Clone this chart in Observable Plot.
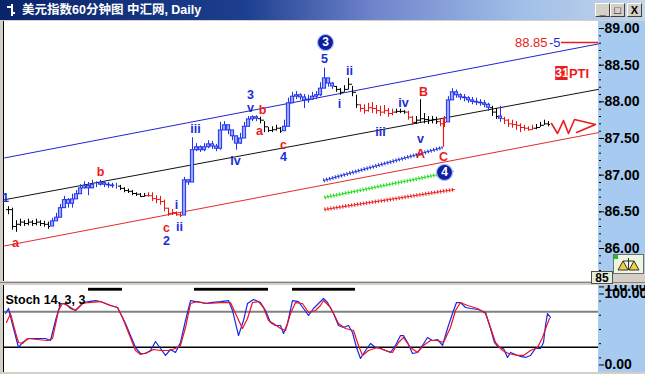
<!DOCTYPE html>
<html><head><meta charset="utf-8">
<script src="https://cdn.jsdelivr.net/npm/d3@7"></script>
<script src="https://cdn.jsdelivr.net/npm/@observablehq/plot@0.6"></script>
<style>
html,body{margin:0;padding:0}
body{width:645px;height:374px;overflow:hidden;background:#d4d0c8;position:relative;font-family:"Liberation Sans",Arial,"Noto Sans CJK SC",sans-serif}
.abs{position:absolute}
#title{left:0;top:0;width:645px;height:20px;background:linear-gradient(to right,#0a246a 0%,#1d3f8f 38%,#6f84cc 58%,#9fbde6 80%,#c4d6ea 100%)}
#title .t{position:absolute;left:22px;top:2px;color:#fff;font-weight:bold;font-size:12.5px;line-height:16px;white-space:nowrap;font-family:"Liberation Sans","Noto Sans CJK SC",sans-serif}
.btn{position:absolute;top:3px;width:13px;height:12px;background:#d4d0c8;border-top:1px solid #fff;border-left:1px solid #fff;border-right:1px solid #404040;border-bottom:1px solid #404040;font:bold 11px/12px "Liberation Sans",Arial;text-align:center;color:#000}
#mainbg{left:3px;top:21px;width:594px;height:260px;background:#fff;border-left:1px solid #000}
#mainaxis{left:598px;top:21px;width:47px;height:250px;background:#a6caf0}
#stochbg{left:3px;top:285px;width:594px;height:87px;background:#fff;border-left:1px solid #000}
#stochaxis{left:598px;top:285px;width:47px;height:87px;background:#a6caf0}
#sep{left:0;top:282px;width:645px;height:1px;background:#808080}
#box85{left:591px;top:271px;width:20px;height:11px;background:#e4eed8;border:1px solid #505050;font:bold 12px/12px "Liberation Sans",Arial;text-align:center;color:#000}
#icon{left:613px;top:254px;width:29px;height:18px;background:#eef6e0;border:1px solid #707070}
</style>
</head><body>
<div id="title" class="abs">
  <svg class="abs" style="left:4px;top:3px" width="12" height="14"><path d="M8 1 V13 M3 4 H8 M8 10 H11" stroke="#fff" stroke-width="2" fill="none"/></svg>
  <div class="t">美元指数60分钟图 中汇网, Daily</div>
  <div class="btn" style="left:595px">_</div>
  <div class="btn" style="left:610px">□</div>
  <div class="btn" style="left:627px">X</div>
</div>
<div id="mainbg" class="abs"></div>
<div id="mainaxis" class="abs"></div>
<div id="sep" class="abs"></div>
<div id="stochbg" class="abs"></div>
<div id="stochaxis" class="abs"></div>
<div id="box85" class="abs">85</div>
<div id="icon" class="abs"><svg width="29" height="18"><rect x="0" y="0" width="4" height="4" fill="#20c020"/><path d="M4 15 L9 6 L14 15 Z M15 15 L20 6 L25 15 Z M9 6 H20 M14.5 3 V15" stroke="#303030" fill="#f0d040" stroke-width="1"/></svg></div>
<script>
// ---------- price bars (hourly) ----------
const barClose = [86.53,86.30,86.33,86.36,86.34,86.36,86.34,86.36,86.34,86.33,86.30,
 86.37,86.42,86.55,86.66,86.61,86.67,86.74,86.82,86.85,86.82,86.87,86.87,86.89,86.87,86.86,86.85,86.85,
 86.82,86.79,86.78,86.75,86.74,86.71,86.72,
 86.72,86.68,86.67,86.64,86.55,86.48,86.49,86.46,86.45,
 86.93,86.90,87.34,87.38,87.34,87.38,87.42,87.39,87.36,87.61,87.68,87.61,87.53,87.43,87.50,87.66,87.76,87.79,87.77,
 87.75,87.66,87.61,87.62,87.64,87.60,
 87.66,87.98,88.07,88.09,88.06,88.02,88.03,88.07,88.09,88.18,88.32,88.25,88.21,
 88.17,88.13,88.17,88.24,88.13,87.96,
 87.91,87.88,87.92,87.91,87.88,87.86,87.88,87.84,87.86,
 87.87,87.87,87.86,
 87.79,87.72,
 87.75,87.77,87.76,87.75,87.76,87.73,
 87.70,87.72,
 88.02,88.13,88.09,88.06,88.05,88.02,88.00,87.99,87.98,87.96,87.92,
 87.86,87.80,
 87.77,
 87.75,87.70,87.69,87.68,87.65,87.64,87.62,87.64,
 87.65,87.68,87.70,87.69];
const barHigh = [86.57,86.55,86.38,86.40,86.38,86.40,86.38,86.40,86.38,86.37,86.36,
 86.41,86.48,86.60,86.71,86.68,86.74,86.79,86.87,86.91,86.90,86.93,86.91,86.93,86.91,86.90,86.89,86.89,
 86.86,86.83,86.81,86.79,86.76,86.75,86.75,
 86.76,86.76,86.72,86.71,86.66,86.55,86.53,86.50,86.49,
 86.97,86.94,87.51,87.43,87.40,87.43,87.47,87.46,87.42,87.72,87.73,87.68,87.61,87.51,87.57,87.72,87.80,87.81,87.81,
 87.79,87.73,87.65,87.66,87.68,87.65,
 87.75,88.05,88.13,88.14,88.11,88.10,88.09,88.13,88.14,88.26,88.46,88.32,88.26,
 88.21,88.18,88.22,88.32,88.21,88.09,
 87.96,87.96,87.98,87.99,87.95,87.94,87.95,87.91,87.90,
 87.90,87.90,87.88,
 87.87,87.80,
 87.80,88.03,87.84,87.80,87.80,87.79,
 87.77,87.80,
 88.07,88.18,88.16,88.11,88.10,88.07,88.06,88.05,88.03,88.02,87.98,
 87.94,87.91,
 87.94,
 87.79,87.76,87.75,87.73,87.70,87.68,87.66,87.68,
 87.69,87.72,87.75,87.73];
const barLow = [86.46,86.25,86.22,86.30,86.30,86.31,86.30,86.31,86.30,86.29,86.26,
 86.31,86.37,86.48,86.59,86.55,86.55,86.68,86.76,86.81,86.72,86.82,86.83,86.85,86.83,86.82,86.82,86.81,
 86.79,86.76,86.75,86.72,86.71,86.70,86.70,
 86.70,86.64,86.61,86.59,86.50,86.44,86.45,86.44,86.42,
 86.87,86.86,86.90,87.32,87.31,87.32,87.36,87.35,87.32,87.34,87.61,87.55,87.47,87.34,87.42,87.54,87.66,87.73,87.73,
 87.70,87.58,87.58,87.58,87.60,87.57,
 87.60,87.75,87.98,88.03,88.02,87.91,87.98,88.02,88.03,88.07,88.22,88.20,88.17,
 88.13,88.09,88.13,88.16,88.07,87.91,
 87.86,87.83,87.86,87.84,87.83,87.80,87.83,87.79,87.81,
 87.84,87.84,87.83,
 87.75,87.68,
 87.69,87.72,87.70,87.69,87.70,87.69,
 87.66,87.65,
 87.75,88.02,88.05,88.02,88.00,87.98,87.96,87.95,87.94,87.92,87.87,
 87.80,87.76,
 87.72,
 87.69,87.65,87.64,87.61,87.58,87.60,87.60,87.61,
 87.62,87.65,87.68,87.66];
// wave colouring of the bars: [number of bars, kind]
const barSegments = [[11,"flat"],[17,"up"],[7,"flat"],[9,"down"],[19,"up"],[6,"flat"],[13,"up"],[6,"flat"],[9,"down"],[3,"flat"],[2,"down"],[6,"flat"],[2,"down"],[11,"up"],[2,"flat"],[1,"up"],[8,"down"],[4,"flat"]];

// ---------- channel lines ----------
const channelNames = ["upper","middle","lower"];
const channelStartBar = [-1,-1,-1];
const channelStartPrice = [87.235,86.665,86.035];
const channelEndBar = [147.5,147.5,147.5];
const channelEndPrice = [88.79,88.17,87.58];

// ---------- projection lines ----------
const projNames = ["blue","green","red"];
const projStartBar = [78.75,79,79];
const projStartPrice = [86.927,86.696,86.532];
const projEndBar = [108.5,111.25,111.5];
const projEndPrice = [87.377,87.05,86.805];

// ---------- projected zig-zag ----------
const zigBar = [135.75,137.25,138.75,140,141.5,146.75,142];
const zigPrice = [87.705,87.568,87.745,87.568,87.759,87.691,87.582];

// ---------- wave labels ----------
const waveText = ["1","a","b","c","2","i","ii","iii","iv","3","v","b","a","c","4","5","ii","i","iii","iv","B","v","A","C"];
const waveBar = [-0.75,1.75,23,39.5,39.5,42,42.75,46.75,56.75,60.5,60.5,63.5,62.75,68.75,68.75,79,85.25,82.75,93,98.75,103.75,103,103,108.75];
const wavePrice = [86.695,86.069,87.037,86.273,86.096,86.587,86.30,87.636,87.20,88.10,87.91,87.882,87.609,87.418,87.241,88.591,88.427,87.964,87.582,87.991,88.141,87.50,87.295,87.241];
const waveType = ["impulse","corrective","corrective","corrective","impulse","impulse","impulse","impulse","impulse","impulse","impulse","corrective","corrective","corrective","impulse","impulse","impulse","impulse","impulse","impulse","corrective","impulse","corrective","corrective"];
const circleText = ["3","4"];
const circleBar = [79.25,109];
const circlePrice = [88.809,87.037];
// C marker line
const cLineBar = 108.75, cLineTop = 87.77, cLineBottom = 87.38;
// target
const targetLabel = "88.85", targetWave = "-5", targetLevel = 88.81, targetFrom = 138.25;
const ptiNumber = "31", ptiText = "PTI", ptiBar = 138.35, ptiPrice = 88.387, ptiBoxFrom = 136.8, ptiBoxTo = 139.9, ptiBoxLow = 88.291, ptiBoxHigh = 88.482;

// ---------- stochastic 14,3,3 ----------
const stochLabel = "Stoch 14, 3, 3";
const kBar = [-0.75,0,0.75,2.5,3.5,5,6.75,9.25,10.5,11.75,13,14.25,15.5,16.75,18,18.75,20,21.75,23,25.5,27.25,29.25,31.75,33,34.25,35.5,36.75,38,39.25,40.5,41.75,43,44.25,45.5,46.75,48,49.25,50.5,53,55,56,57.5,58.75,59.75,61.25,63,64.25,65.5,66.75,68,68.75,69.75,71,72.5,73.75,75,76.25,77.5,78.75,79.75,81.25,82.5,83.75,85,86,87,88,89.25,90.5,91.75,93,94.25,95.5,96.75,98,98.75,99.75,101,102.25,103.5,104.75,106,107.25,108.5,109.75,111,112,113,114.25,115.5,117.5,119.25,120.5,121.5,122.5,123.75,124.75,125.5,126.75,128,129.25,130.5,131.75,133,133.75,134.25,134.75,135.5];
const kValue = [72.5,79.6,62.7,24.6,31.7,37.3,37.3,37.3,34.5,62.7,86.6,86.6,79.6,76.8,83.8,88.0,89.4,90.8,89.4,83.8,81.0,58.5,24.6,16.2,16.2,20.4,33.1,23.2,13.4,21.8,17.6,31.7,62.7,90.8,89.4,88.0,86.6,88.0,89.4,90.8,76.8,41.5,62.7,86.6,92.3,88.0,76.8,59.9,55.6,55.6,44.4,58.5,90.8,89.4,79.6,69.7,79.6,86.6,93.7,88.0,72.5,55.6,52.8,55.6,45.8,24.6,9.2,20.4,30.3,24.6,23.2,20.4,17.6,27.5,41.5,41.5,31.7,16.2,17.6,27.5,38.7,34.5,35.9,27.5,51.4,72.5,88.0,88.0,81.0,79.6,78.2,73.9,51.4,31.7,24.6,23.2,10.6,17.6,14.8,12.0,10.6,13.4,23.2,23.2,31.7,55.6,72.5,66.9];
const dBar = [-0.5,0.5,1.75,2.5,3.5,4.75,9.75,11,12.5,13.5,14.75,16.75,18.5,20,23,25.5,27.25,28.5,31.75,33,34.75,36.25,38,40,41.75,43,44.25,45.5,47.25,49.75,53,55.5,56.75,58.5,59.75,61,62.5,63.75,65,66.25,68,69.25,70.5,71.75,73.5,75,76.75,78,78.75,80.5,82.5,84.25,86.25,87.5,88.5,90,92.25,94.25,96,97.5,98.75,100.5,102.25,103.75,105.5,107.25,108.75,110.5,111.75,113,114.75,117.25,119.25,120.5,121.75,123.5,125,127.25,128.75,130.5,132.25,133.5,134.75,135.25];
const dValue = [59.9,72.5,45.8,31.7,30.3,37.3,34.5,37.3,76.8,86.6,83.8,76.8,86.6,88.0,89.4,83.8,81.0,66.9,20.4,14.8,17.6,21.8,20.4,20.4,23.2,27.5,52.8,86.6,89.4,86.6,88.0,88.0,72.5,51.4,65.5,88.0,89.4,81.0,62.7,58.5,51.4,48.6,72.5,88.0,86.6,73.9,76.8,83.8,90.8,81.0,58.5,51.4,48.6,27.5,13.4,20.4,24.6,20.4,17.6,31.7,38.7,24.6,17.6,27.5,34.5,34.5,31.7,52.8,76.8,88.0,83.8,79.6,72.5,52.8,31.7,20.4,16.2,13.4,13.4,20.4,24.6,38.7,58.5,65.5];
const stochLevels = [75, 25];
const obStart = [20, 46.5, 71];
const obEnd = [28.5, 65, 86.75];

// ---------- build tables ----------
const kindOf = barSegments.flatMap(([n, k]) => Array(n).fill(k));
const bars = barClose.map((c, i) => ({i, open: i ? barClose[i - 1] : c, close: c, high: barHigh[i], low: barLow[i], kind: kindOf[i]}));
const upBars = bars.filter(d => d.kind === "up");
const otherBars = bars.filter(d => d.kind !== "up");
const channels = channelNames.flatMap((n, k) => [{n, i: channelStartBar[k], p: channelStartPrice[k]}, {n, i: channelEndBar[k], p: channelEndPrice[k]}]);
const projs = projNames.flatMap((n, k) => [{n, i: projStartBar[k], p: projStartPrice[k]}, {n, i: projEndBar[k], p: projEndPrice[k]}]);
const zig = zigBar.map((b, k) => ({i: b, p: zigPrice[k]}));
const waves = waveText.map((t, k) => ({t, i: waveBar[k], p: wavePrice[k], type: waveType[k]}));
const circles = circleText.map((t, k) => ({t, i: circleBar[k], p: circlePrice[k]}));
const kLine = kBar.map((b, k) => ({i: b, v: kValue[k]}));
const dLine = dBar.map((b, k) => ({i: b, v: dValue[k]}));
const obBars = obStart.map((s, k) => ({s, e: obEnd[k]}));

const BLUE = "#1c2ed6", RED = "#ea1c1c";
const barColor = {up: "#2233ee", down: "#f01010", flat: "#000000"};
const chanColor = {upper: "#2424d0", middle: "#111111", lower: "#e42a2a"};
const projColor = {blue: "#2030d8", green: "#22dd22", red: "#ee2020"};
const FONT = "Liberation Sans, Arial, sans-serif";
const xDom = [-1, 147.5];

const main = Plot.plot({
  width: 645, height: 260, marginLeft: 4, marginRight: 47, marginTop: 0, marginBottom: 0,
  style: {background: "transparent", overflow: "hidden", fontFamily: FONT},
  x: {domain: xDom, axis: null},
  y: {domain: [85.55, 89.0956], axis: null},
  marks: [
    Plot.axisY({anchor: "right", ticks: d3.range(85.6, 89.05, 0.1), tickSize: 2, tickFormat: () => "", color: "#000", label: null}),
    Plot.axisY({anchor: "right", ticks: [86, 86.5, 87, 87.5, 88, 88.5, 89], tickSize: 5, tickPadding: 1, tickFormat: d => d.toFixed(2), fontSize: 14, fontWeight: "bold", color: "#000", label: null}),
    Plot.line(channels, {x: "i", y: "p", z: "n", stroke: d => chanColor[d.n], strokeWidth: 1}),
    // projection lines with hatch ticks
    Plot.line(projs, {x: "i", y: "p", z: "n", stroke: d => projColor[d.n], strokeWidth: 1}),
    Plot.line(projs, {x: "i", y: "p", z: "n", stroke: d => projColor[d.n], strokeWidth: 4, strokeDasharray: "1 2", strokeLinecap: "butt"}),
    // bars
    Plot.ruleX(bars, {x: "i", y1: "low", y2: "high", stroke: d => barColor[d.kind], strokeWidth: 1}),
    Plot.rect(upBars, {x1: d => d.i - 0.4, x2: d => d.i + 0.4, y1: "open", y2: "close", fill: "#9aa6ff", stroke: d => barColor[d.kind], strokeWidth: 1}),
    Plot.ruleY(otherBars, {y: "open", x1: d => d.i - 0.5, x2: "i", stroke: d => barColor[d.kind]}),
    Plot.ruleY(otherBars, {y: "close", x1: "i", x2: d => d.i + 0.5, stroke: d => barColor[d.kind]}),
    // C marker
    Plot.ruleX([cLineBar], {x: d => d, y1: cLineTop, y2: cLineBottom, stroke: RED, strokeWidth: 1.2}),
    // zigzag projection
    Plot.line(zig, {x: "i", y: "p", stroke: RED, strokeWidth: 1.6}),
    // target
    Plot.ruleY([targetLevel], {y: d => d, x1: targetFrom, x2: 147.5, stroke: RED, strokeWidth: 1.6}),
    Plot.text([targetLabel], {x: 134.75, y: targetLevel, text: d => d, textAnchor: "end", fill: RED, fontSize: 13}),
    Plot.text([targetWave], {x: 135.1, y: targetLevel, text: d => d, textAnchor: "start", fill: BLUE, fontSize: 13}),
    Plot.rect([0], {x1: ptiBoxFrom, x2: ptiBoxTo, y1: ptiBoxLow, y2: ptiBoxHigh, fill: RED}),
    Plot.text([ptiNumber], {x: ptiBar, y: ptiPrice, text: d => d, fill: "#fff", fontSize: 12, fontWeight: "bold"}),
    Plot.text([ptiText], {x: 140.1, y: ptiPrice, text: d => d, textAnchor: "start", fill: RED, fontSize: 13, fontWeight: "bold"}),
    // wave labels
    Plot.text(waves, {x: "i", y: "p", text: "t", fill: d => d.type === "impulse" ? BLUE : RED, fontSize: 12.5, fontWeight: "bold"}),
    Plot.dot(circles, {x: "i", y: "p", r: 8, fill: "#0d1f9e", stroke: "#a8b8ff", strokeWidth: 1.2}),
    Plot.text(circles, {x: "i", y: "p", text: "t", fill: "#fff", fontSize: 12, fontWeight: "bold"})
  ]
});
main.style.position = "absolute"; main.style.left = "0px"; main.style.top = "21px";
document.body.appendChild(main);

const stoch = Plot.plot({
  width: 645, height: 87, marginLeft: 4, marginRight: 47, marginTop: 0, marginBottom: 0,
  style: {background: "transparent", overflow: "hidden", fontFamily: FONT},
  x: {domain: xDom, axis: null},
  y: {domain: [-10.6, 112], axis: null},
  marks: [
    Plot.axisY({anchor: "right", ticks: d3.range(10, 100, 20), tickSize: 2, tickFormat: () => "", color: "#000", label: null}),
    Plot.axisY({anchor: "right", ticks: [110], tickSize: 5, tickPadding: 1, tickFormat: d => d.toFixed(2), fontSize: 14, fontWeight: "bold", color: "#000", label: null}),
    Plot.axisY({anchor: "right", ticks: [100, 0], tickSize: 5, tickPadding: 1, tickFormat: d => d.toFixed(2), fontSize: 14, fontWeight: "bold", color: "#000", label: null}),
    Plot.ruleY([stochLevels[0]], {stroke: "#808080", strokeWidth: 2}),
    Plot.ruleY([stochLevels[1]], {stroke: "#000", strokeWidth: 1.5}),
    Plot.rect(obBars, {x1: "s", x2: "e", y1: 104, y2: 108, fill: "#000"}),
    Plot.line(kLine, {x: "i", y: "v", stroke: "#1428e8", strokeWidth: 1.2}),
    Plot.line(dLine, {x: "i", y: "v", stroke: "#f01020", strokeWidth: 1.2}),
    Plot.text([stochLabel], {frameAnchor: "top-left", dx: 1, dy: 10, text: d => d, textAnchor: "start", fill: "#000", fontSize: 12.5, fontWeight: "bold"})
  ]
});
stoch.style.position = "absolute"; stoch.style.left = "0px"; stoch.style.top = "285px";
document.body.appendChild(stoch);
</script>
</body></html>
